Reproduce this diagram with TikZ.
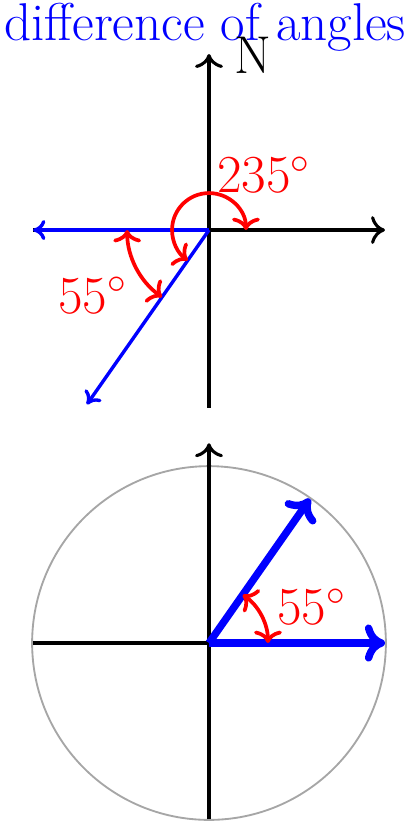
\documentclass[tikz,border=0pt]{standalone}
\usepackage{tikz}
\usetikzlibrary{calc, arrows.meta}

\begin{document}
\begin{tikzpicture}[
    axis/.style={-{To[length=4.5pt, width=9pt]}, black, line width=1pt},
    vec/.style={-{To[length=4pt, width=6.5pt]}, blue, line width=1.1pt},
    bigvec/.style={-{To[length=6.5pt, width=12pt]}, blue, line width=2.4pt},
    angarc/.style={{To[length=4pt, width=9pt]}-{To[length=4pt, width=9pt]}, red, line width=1.2pt},
    anglabel/.style={text=red, font=\fontsize{17.2}{20}\selectfont},
    ring/.style={draw=black!35, line width=0.6pt}
  ]
  \useasboundingbox (-2.375,-6.761) rectangle (2.261,2.614);

  % upper picture: bearing of 235 degrees
  \coordinate (O) at (0,0);
  \coordinate (W) at (-2,0);
  \coordinate (E) at (2,0);
  \coordinate (S) at (0,-2.02);
  \coordinate (Nt) at (0,2);
  \coordinate (D) at (235:2.42);

  \node[text=blue, font=\fontsize{17.2}{20}\selectfont] (title) at (-0.045,2.3) {difference of angles};
  \node[font=\fontsize{17.2}{20}\selectfont] (north) at (0.5,1.99) {N};

  \draw[axis] (W) -- (E);
  \draw[axis] (S) -- (Nt);
  \draw[vec] (O) -- (W);
  \draw[vec] (O) -- (D);

  \draw[angarc] (O) ++(0:0.42) arc[start angle=0, end angle=235, radius=0.42];
  \draw[angarc] (O) ++(180:0.93) arc[start angle=180, end angle=235, radius=0.93];
  \node[anglabel] (big) at (0.625,0.625) {$235^\circ$};
  \node[anglabel] (small) at (-1.318,-0.739) {$55^\circ$};

  % lower picture: the same angle on the unit circle
  \coordinate (C) at (0,-4.693);
  \coordinate (Cw) at ($(C)+(-2,0)$);
  \coordinate (Ce) at ($(C)+(2,0)$);
  \coordinate (Cs) at ($(C)+(0,-2)$);
  \coordinate (Cn) at ($(C)+(0,2.27)$);
  \coordinate (P) at ($(C)+(55:2)$);

  \draw[ring] (C) circle[radius=2.01];
  \draw[black, line width=1pt] (Cw) -- (C);
  \draw[axis] (Cs) -- (Cn);
  \draw[bigvec] (C) -- (Ce);
  \draw[bigvec] (C) -- (P);

  \draw[angarc] (C) ++(0:0.67) arc[start angle=0, end angle=55, radius=0.67];
  \node[anglabel] (lower) at ($(C)+(1.17,0.41)$) {$55^\circ$};
\end{tikzpicture}
\end{document}
